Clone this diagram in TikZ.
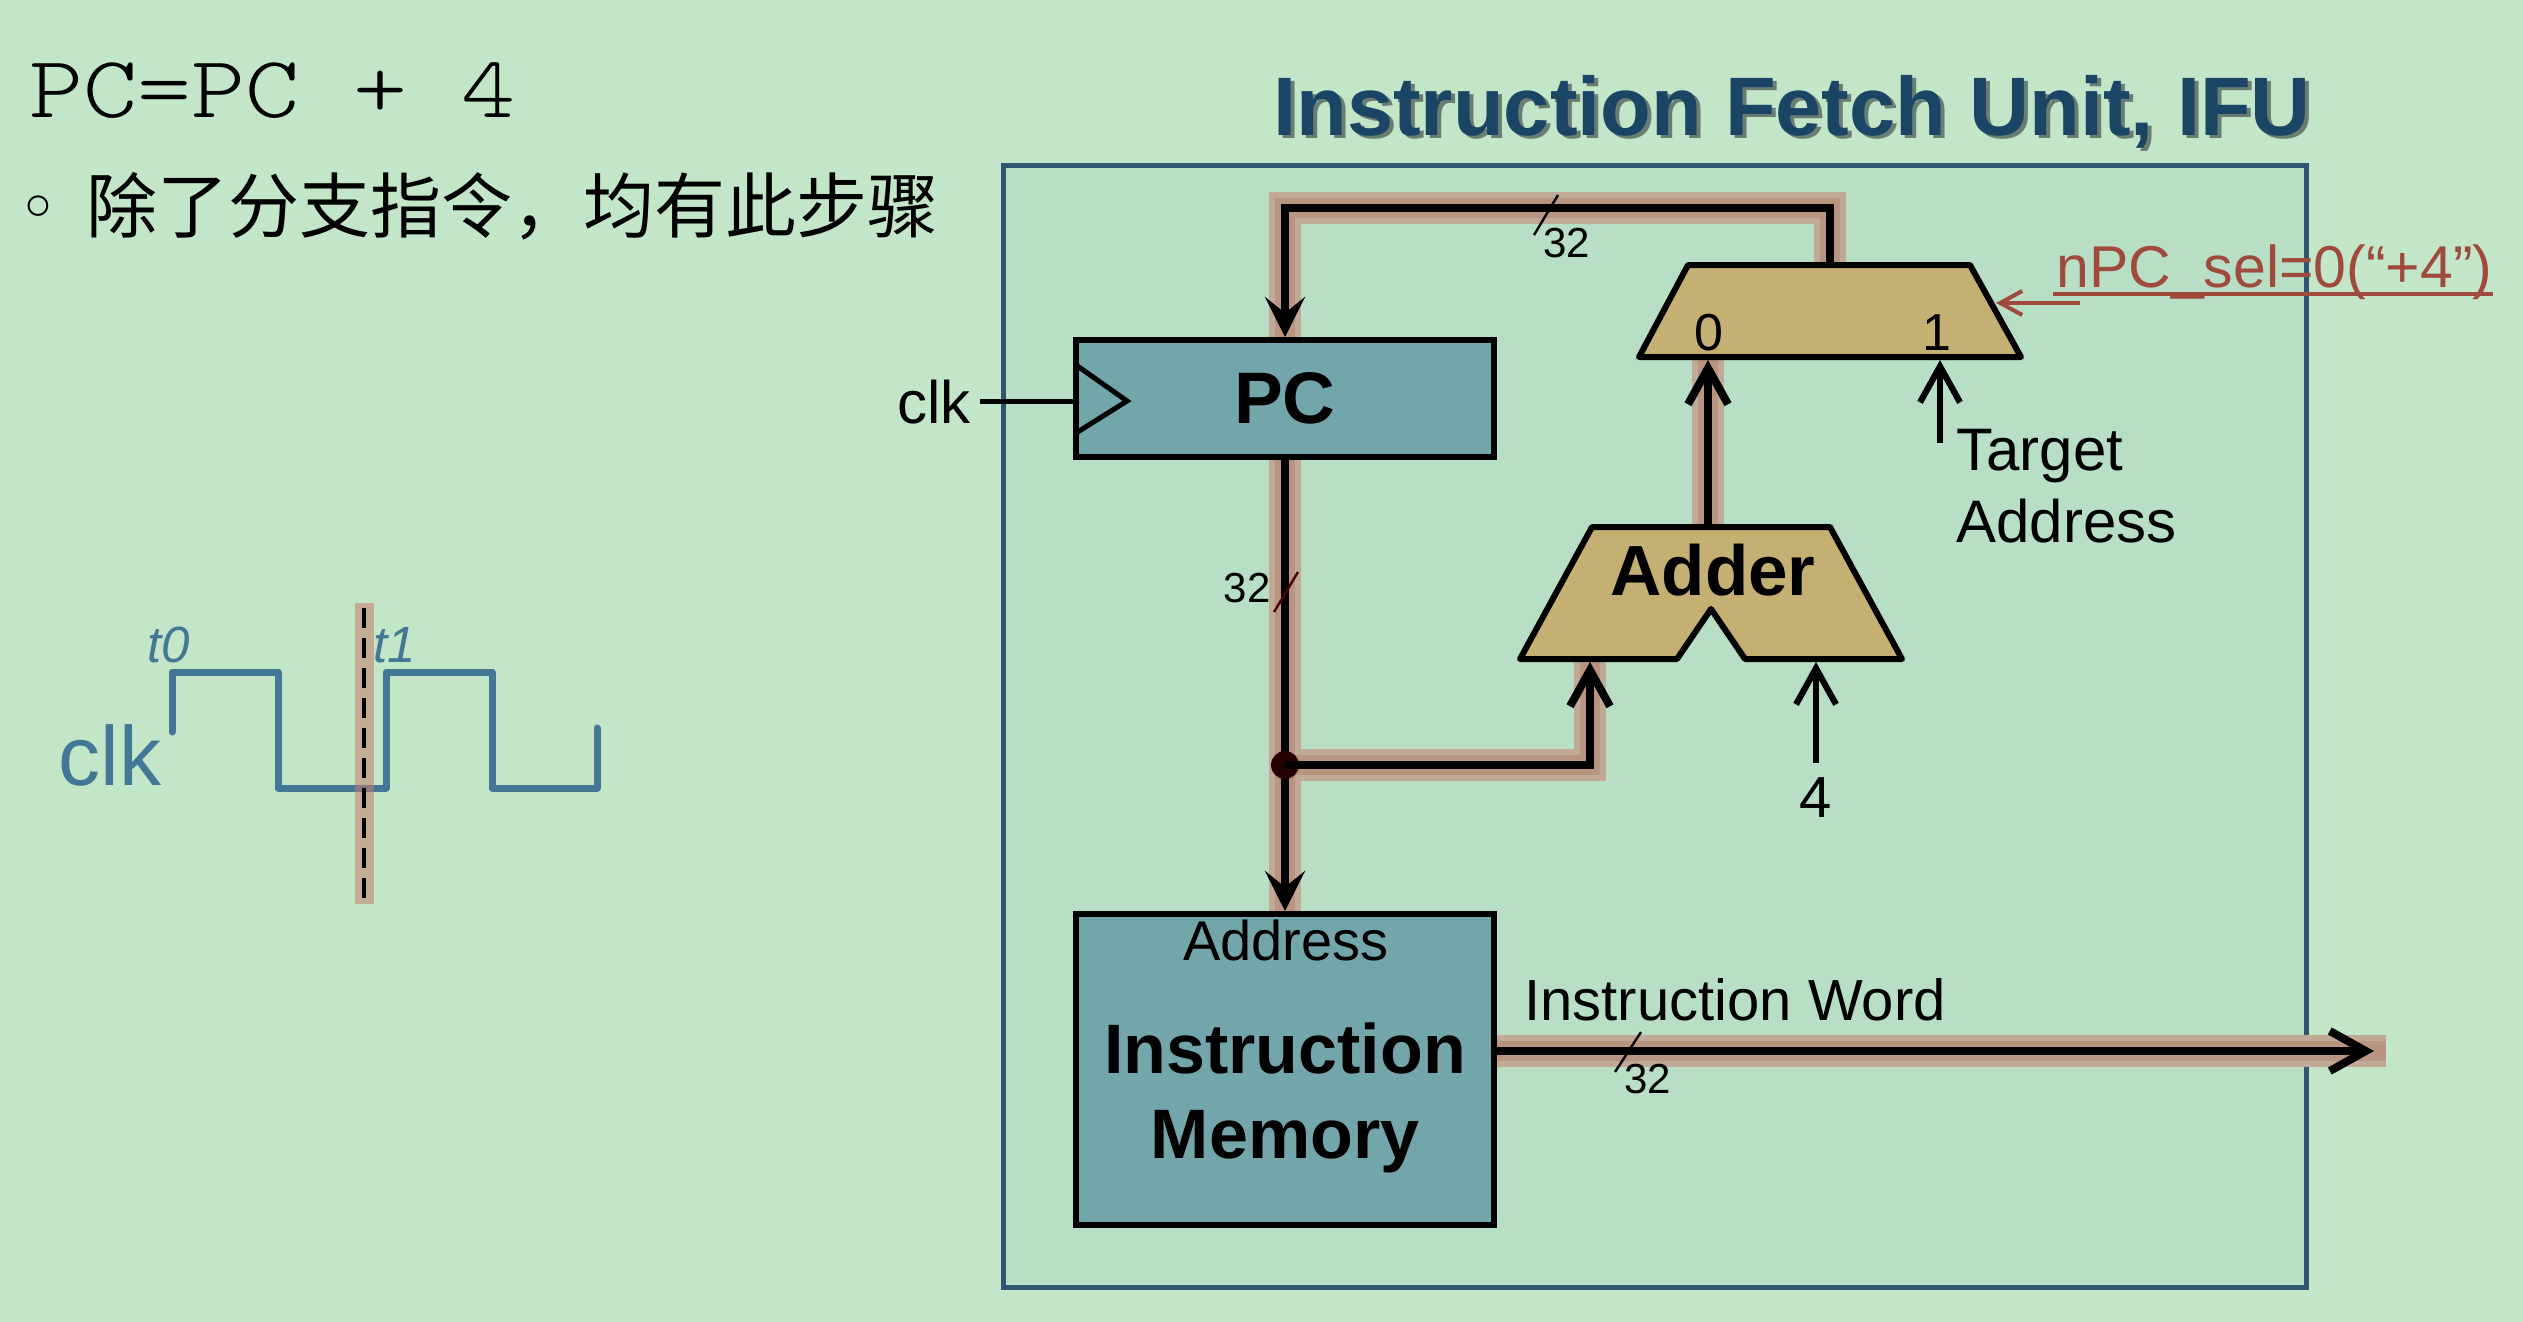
\documentclass[tikz,border=0pt]{standalone}
\usepackage{fontspec}
\setmainfont{Liberation Sans}
\newfontfamily\cjk{Noto Sans CJK SC}
\newfontfamily\dejavu{DejaVu Sans}
\newfontfamily\pcmono[FakeStretch=1.17]{lmmonolt10-regular.otf}
\usetikzlibrary{arrows.meta,calc}
\pgfdeclarelayer{bg}
\pgfdeclarelayer{glow}
\pgfsetlayers{bg,glow,main}
\newcommand\myfs[1]{\fontsize{#1}{#1}\selectfont}
\definecolor{bgc}{RGB}{196,230,200}
\definecolor{innerc}{RGB}{184,222,197}
\definecolor{framec}{RGB}{46,86,112}
\definecolor{boxfill}{RGB}{115,166,170}
\definecolor{muxc}{RGB}{196,176,114}
\definecolor{glowA}{RGB}{192,170,150}
\definecolor{glowB}{RGB}{185,148,128}
\definecolor{glowD}{RGB}{195,125,105}
\definecolor{redc}{RGB}{160,74,62}
\definecolor{wavec}{RGB}{66,119,150}
\definecolor{titlec}{RGB}{27,69,101}
\definecolor{shadowc}{RGB}{105,125,115}
\begin{document}
\begin{tikzpicture}[x=0.5pt,y=-0.5pt,
  wire/.style={line width=4pt, draw=black},
  sig/.style={line width=3.1pt, draw=black},
  regbox/.style={draw=black, line width=3pt, fill=boxfill, minimum width=209pt, inner sep=0pt},
  lbl/.style={inner sep=0pt, anchor=base, text=black},
  downtip/.style={-{Stealth[length=20pt,width=20pt,inset=8pt]}},
  uptip/.style={-{Straight Barb[length=18pt,width=20pt]}},
  muxshape/.style={draw=black, line width=3pt, fill=muxc, line join=round},
]
\begin{pgfonlayer}{bg}
\fill[bgc] (0,0) rectangle (2523,1322);
\draw[draw=framec, line width=2.5pt, fill=innerc] (1003,166) rectangle (2306,1287);
\end{pgfonlayer}
\useasboundingbox (0,0) rectangle (2523,1322);

% ---- top-left text ----
\node[lbl, anchor=base west, font=\pcmono\myfs{44pt}] (eq) at (29,118) {PC=PC + 4};
\node[lbl, font=\dejavu\myfs{35.5pt}] (bul) at (38,233) {◦};
\node[lbl, anchor=base west, font=\cjk\myfs{35.5pt}] (cn) at (86,233) {除了分支指令，均有此步骤};

% ---- title ----
\node[lbl, font=\bfseries\myfs{41.5pt}, text=shadowc] (titles) at (1796,139) {Instruction Fetch Unit, IFU};
\node[lbl, font=\bfseries\myfs{41.5pt}, text=titlec] (title) at (1792,135) {Instruction Fetch Unit, IFU};

% ---- clock waveform ----
\draw[line width=3.5pt, draw=wavec, line cap=round, line join=round]
  (172,732) -- (172,672) -- (278,672) -- (278,788) -- (386,788) -- (386,672)
  -- (492,672) -- (492,788) -- (597,788) -- (597,728);
\draw[line width=9.5pt, draw=glowD, opacity=0.55] (364,603) -- (364,904);
\draw[line width=2pt, dash pattern=on 10pt off 5pt] (364,608) -- (364,902);
\node[lbl, anchor=base west, font=\myfs{42pt}, text=wavec] (clkw) at (58,785) {clk};
\node[lbl, anchor=base west, font=\itshape\myfs{25.5pt}, text=wavec] (t0) at (147,662) {t0};
\node[lbl, anchor=base west, font=\itshape\myfs{25.5pt}, text=wavec] (t1) at (373,662) {t1};

% ---- blocks ----
\node[regbox, minimum height=58.5pt, font=\bfseries\myfs{36.5pt}] (pc) at (1285,398.5) {PC};
\node[regbox, minimum height=155.5pt] (im) at (1285,1069.5) {};
\draw[line width=2.5pt, line join=miter] (1076,365) -- (1127,401) -- (1076,433);
\draw[muxshape] (1688,265) -- (1970,265) -- (2021,357) -- (1639,357) -- cycle;
\draw[muxshape] (1592,527) -- (1830,527) -- (1902,659) -- (1745,659) -- (1711,609) -- (1677,659) -- (1520,659) -- cycle;

% ---- connection points ----
\coordinate (muxout) at (1830,262);
\coordinate (mux0) at (1708,360);
\coordinate (mux1) at (1940,360);
\coordinate (muxsel) at (1996,303);
\coordinate (addout) at (1708,524);
\coordinate (addA) at (1590,662);
\coordinate (addB) at (1816,662);
\coordinate (jn) at (1285,765);
\coordinate (tgt) at (1940,443);
\coordinate (fourc) at (1816,763);
\coordinate (iwend) at (2374,1051);
\coordinate (iwstart) at (1497,1051);
\coordinate (fbk) at (1830,208);
\coordinate (selsrc) at (2080,303);

% ---- glow ----
\begin{pgfonlayer}{glow}
\foreach \w/\c in {16pt/glowA,10pt/glowB}{
  \draw[line width=\w, draw=\c] (1830,268) -- (fbk) -| (1285,350);
  \draw[line width=\w, draw=\c] (1285,452) -- (1285,918);
  \draw[line width=\w, draw=\c] (jn) -| (1590,655);
  \draw[line width=\w, draw=\c] (1708,530) -- (1708,352);
  \draw[line width=\w, draw=\c] (1490,1051) -- (2386,1051);
}
\end{pgfonlayer}

% ---- wires ----
\draw[wire, downtip] (muxout) -- (fbk) -| (pc.north);
\draw[wire, downtip] (pc.south) -- (im.north);
\fill[black!85!red] (jn) circle[radius=7pt];
\draw[wire, uptip] (jn) -| (addA);
\draw[wire, uptip] (addout) -- (mux0);
\draw[sig, uptip] (tgt) -- (mux1);
\draw[sig, uptip] (fourc) -- (addB);
\draw[wire, -{Straight Barb[length=18pt,width=20pt]}] (iwstart) -- (iwend);
\draw[line width=2pt, draw=redc, -{Straight Barb[length=11pt,width=12pt]}] (selsrc) -- (muxsel);

% ---- bus width marks ----
\draw[line width=1.2pt] (1534,235) -- (1558,195);
\node[lbl, anchor=base west, font=\myfs{21pt}] (w1) at (1543,257) {32};
\draw[line width=1.2pt, draw=black!70!red] (1274,612) -- (1298,572);
\node[lbl, anchor=base east, font=\myfs{21pt}] (w2) at (1271,602) {32};
\draw[line width=1.2pt] (1615,1072) -- (1641,1032);
\node[lbl, anchor=base west, font=\myfs{21pt}] (w3) at (1624,1093) {32};

% ---- labels ----
\node[lbl, anchor=base west, font=\myfs{30pt}] (clklbl) at (897,423) {clk};
\draw[line width=2.5pt] ([xshift=4.5pt]clklbl.east) -- (clklbl.east -| pc.west);
\node[lbl, font=\myfs{26pt}] (l0) at (1709,350) {0};
\node[lbl, font=\myfs{26pt}] (l1) at (1937,350) {1};
\node[lbl, anchor=base west, font=\myfs{30pt}] (tgtl) at (1956,470) {Target};
\node[lbl, anchor=base west, font=\myfs{30pt}] (tgtl2) at (1956,542) {Address};
\node[lbl, font=\bfseries\myfs{35.5pt}] (addl) at (1713,595) {Adder};
\node[lbl, font=\myfs{29pt}] (fourl) at (1816,817) {4};
\node[lbl, font=\myfs{28pt}] (addrl) at (1286,960) {Address};
\node[lbl, font=\bfseries\myfs{35pt}] (iml1) at (1285,1073) {Instruction};
\node[lbl, font=\bfseries\myfs{35pt}] (iml2) at (1285,1158) {Memory};
\node[lbl, anchor=base west, font=\myfs{29pt}] (iwl) at (1524,1020) {Instruction Word};
\node[lbl, anchor=base west, font=\myfs{29.5pt}, text=redc] (sel) at (2056,287) {nPC\_sel=0(“+4”)};
\draw[line width=1.6pt, draw=redc] (2053,294) -- (2493,294);
\end{tikzpicture}
\end{document}
